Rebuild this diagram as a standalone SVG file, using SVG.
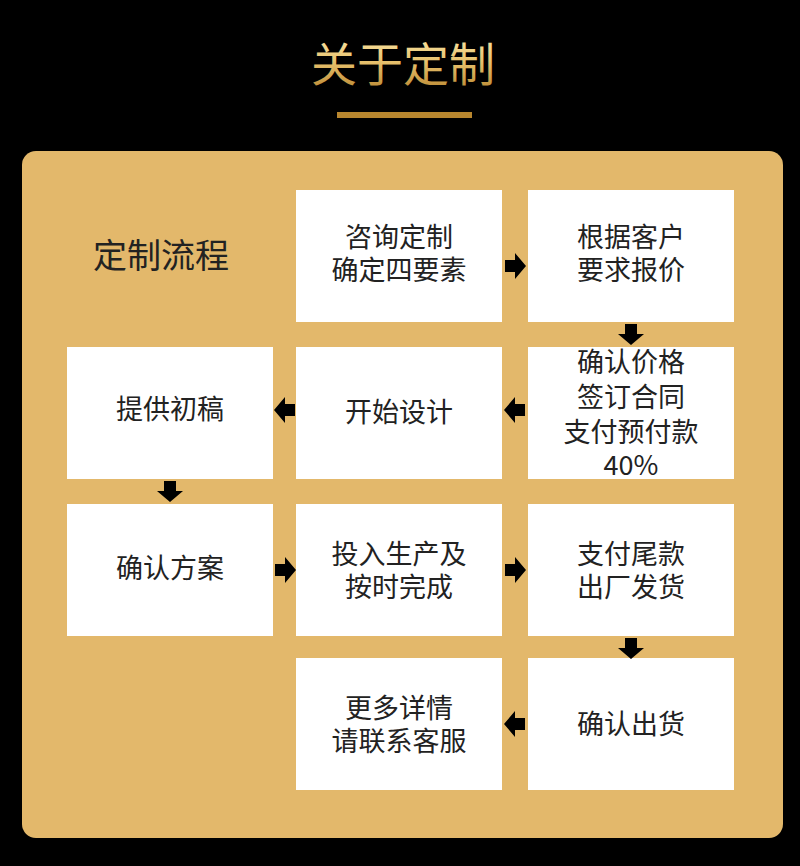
<svg xmlns="http://www.w3.org/2000/svg" width="800" height="866" viewBox="0 0 800 866">
<defs>
<linearGradient id="tg" x1="0" y1="0" x2="0" y2="1">
<stop offset="0" stop-color="#FFF1B8"/>
<stop offset="0.5" stop-color="#E8C26E"/>
<stop offset="1" stop-color="#B5822C"/>
</linearGradient>
<path id="ar" d="M-10,-6 L0,-6 L0,-13 L11,0 L0,13 L0,6 L-10,6 Z" fill="#000"/>
</defs>
<style>
.box{fill:#fff}
.t{font-family:"Noto Sans CJK SC","Noto Sans",sans-serif;font-size:27px;fill:#222;text-anchor:middle}
</style>
<rect width="800" height="866" fill="#000"/>
<text x="403" y="81" font-family="Noto Sans CJK SC, sans-serif" font-size="46" fill="url(#tg)" text-anchor="middle">关于定制</text>
<rect x="337" y="112" width="135" height="6" fill="#B8862E"/>
<rect x="22" y="151" width="761" height="687" rx="14" fill="#E3B86B"/>
<text x="93" y="268" font-family="Noto Sans CJK SC, sans-serif" font-size="34" fill="#222">定制流程</text>
<g id="n1"><rect class="box" x="296" y="190" width="206" height="132"/><text class="t" x="399" y="247">咨询定制</text><text class="t" x="399" y="280">确定四要素</text></g>
<g id="n2"><rect class="box" x="528" y="190" width="206" height="132"/><text class="t" x="631" y="247">根据客户</text><text class="t" x="631" y="280">要求报价</text></g>
<g id="n3"><rect class="box" x="528" y="347" width="206" height="132"/><text class="t" x="631" y="372">确认价格</text><text class="t" x="631" y="407">签订合同</text><text class="t" x="631" y="442">支付预付款</text><text class="t" x="631" y="475">40%</text></g>
<g id="n4"><rect class="box" x="296" y="347" width="206" height="132"/><text class="t" x="399" y="422">开始设计</text></g>
<g id="n5"><rect class="box" x="67" y="347" width="206" height="132"/><text class="t" x="170" y="419">提供初稿</text></g>
<g id="n6"><rect class="box" x="67" y="504" width="206" height="132"/><text class="t" x="170" y="578">确认方案</text></g>
<g id="n7"><rect class="box" x="296" y="504" width="206" height="132"/><text class="t" x="399" y="564">投入生产及</text><text class="t" x="399" y="597">按时完成</text></g>
<g id="n8"><rect class="box" x="528" y="504" width="206" height="132"/><text class="t" x="631" y="564">支付尾款</text><text class="t" x="631" y="597">出厂发货</text></g>
<g id="n9"><rect class="box" x="528" y="658" width="206" height="132"/><text class="t" x="631" y="734">确认出货</text></g>
<g id="n10"><rect class="box" x="296" y="658" width="206" height="132"/><text class="t" x="399" y="718">更多详情</text><text class="t" x="399" y="751">请联系客服</text></g>
<g id="connectors">
<use href="#ar" transform="translate(515,266)"/>
<use href="#ar" transform="translate(631,334) rotate(90)"/>
<use href="#ar" transform="translate(515,410) rotate(180)"/>
<use href="#ar" transform="translate(285,410) rotate(180)"/>
<use href="#ar" transform="translate(170,491) rotate(90)"/>
<use href="#ar" transform="translate(285,570)"/>
<use href="#ar" transform="translate(515,570)"/>
<use href="#ar" transform="translate(631,648) rotate(90)"/>
<use href="#ar" transform="translate(515,724) rotate(180)"/>
</g>
</svg>
